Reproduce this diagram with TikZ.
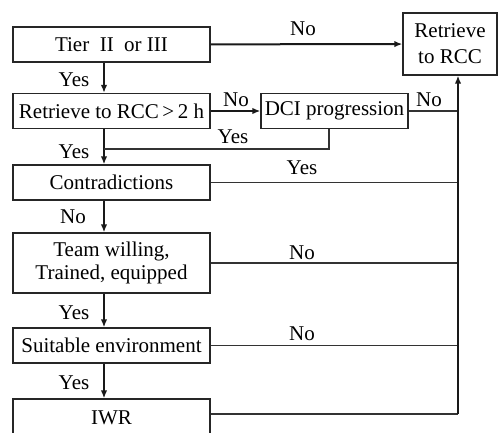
\documentclass[tikz,border=0pt]{standalone}
\usepackage{fontspec}
\setmainfont{Liberation Serif}
\usetikzlibrary{arrows.meta}
\tikzstyle{every node}=[font=\fontsize{10.5}{12}\selectfont]
\tikzstyle{box}=[draw=black!85,line width=0.6pt,inner sep=0pt,align=center,minimum width=98.5pt,minimum height=17.5pt]
\tikzstyle{flow}=[draw=black!90,line width=1pt,-{Latex[length=4pt,width=3.2pt]}]
\tikzstyle{back}=[draw=black!80,line width=0.55pt]
\tikzstyle{lbl}=[inner sep=0pt]

\begin{document}
\begin{tikzpicture}[x=0.5pt,y=-0.5pt]
\useasboundingbox (0,0) rectangle (498,433);
\coordinate (spine) at (104,0);
\coordinate (trunk) at (458,0);
\coordinate (drop) at (329,0);

\node[box] (tier)    at (111.5,44.5) {Tier\ \ II\ \ or III};
\node[box] (rcc)     at (111.5,111)  {Retrieve to RCC\,>\,2 h};
\node[box,minimum width=73.5pt] (dci) at (334.5,111) {DCI progression};
\node[box] (contra)  at (111.5,182.5) {Contradictions};
\node[box,minimum height=30pt,font=\fontsize{10.5}{11.5}\selectfont] (team) at (111.5,263) {Team willing,\\Trained, equipped};
\node[box] (env)     at (111.5,345.5) {Suitable environment};
\node[box,minimum height=18.5pt] (iwr) at (111.5,417.5) {IWR};
\node[box,minimum width=47pt,minimum height=31pt,font=\fontsize{10.5}{13}\selectfont] (ret) at (450,44) {Retrieve\\to RCC};

\coordinate (join) at (104,149);
\coordinate (bottom) at (458,414);

\draw[flow] (tier) -- (ret);
\draw[flow] (tier.south -| spine) -- (rcc.north -| spine);
\draw[flow] (rcc) -- (dci);
\draw[flow] (rcc.south -| spine) -- (contra.north -| spine);
\draw[flow] (contra.south -| spine) -- (team.north -| spine);
\draw[flow] (team.south -| spine) -- (env.north -| spine);
\draw[flow] (env.south -| spine) -- (iwr.north -| spine);

\draw[back] (dci.south -| drop) |- (join);
\draw[back] (dci) -- (dci -| trunk);
\draw[back] (contra) -- (contra -| trunk);
\draw[back] (team) -- (team -| trunk);
\draw[back] (env) -- (env -| trunk);
\draw[back] (iwr.east |- bottom) -- (bottom);
\draw[flow] (bottom) -- (ret.south -| bottom);

\node[lbl] (n1) at (303,29)  {No};
\node[lbl] (y1) at (74,80)   {Yes};
\node[lbl] (n2) at (236,100) {No};
\node[lbl] (n3) at (429,100) {No};
\node[lbl] (y2) at (233,137) {Yes};
\node[lbl] (y3) at (74,152)  {Yes};
\node[lbl] (y4) at (302,168) {Yes};
\node[lbl] (n4) at (73,217)  {No};
\node[lbl] (n5) at (302,253) {No};
\node[lbl] (y5) at (74,313)  {Yes};
\node[lbl] (n6) at (302,334) {No};
\node[lbl] (y6) at (74,383)  {Yes};
\end{tikzpicture}
\end{document}
